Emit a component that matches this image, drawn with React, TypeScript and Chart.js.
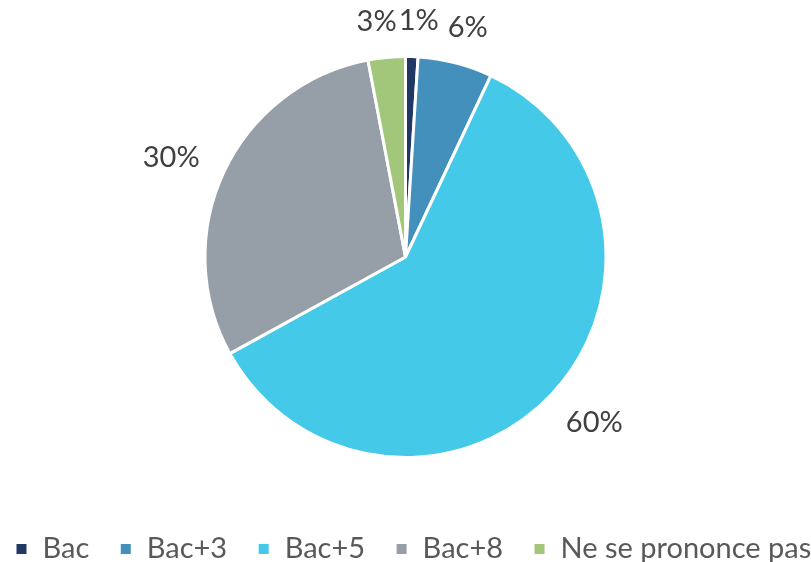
import React, { useEffect, useRef } from "react";
import { Chart, registerables } from "chart.js";

Chart.register(...registerables);

const categories = ["Bac", "Bac+3", "Bac+5", "Bac+8", "Ne se prononce pas"];
const values = [1, 6, 60, 30, 3];
const valueLabels = ["1%", "6%", "60%", "30%", "3%"];
const colors = ["#1F3864", "#4390BC", "#44CAE8", "#969FA8", "#A3C77A"];

const FONT = "Lato, 'Open Sans', sans-serif";
const LEGEND_FONT = 29;
const LEGEND_PAD = 30;
const LEGEND_TEXT_Y = 549;
const LEGEND_START_X = 15;
const LEGEND_BOX_H = 103;

const outsideLabels = {
  id: "outsideLabels",
  afterDatasetsDraw(chart: any) {
    const ctx = chart.ctx;
    const meta = chart.getDatasetMeta(0);
    ctx.save();
    ctx.font = `29px ${FONT}`;
    ctx.fillStyle = "#404040";
    ctx.textAlign = "center";
    ctx.textBaseline = "middle";
    const boxes: { cx: number; cy: number; w: number; text: string }[] = [];
    meta.data.forEach((arc: any, i: number) => {
      const p = arc.getProps(["x", "y", "startAngle", "endAngle", "outerRadius"], true);
      const mid = (p.startAngle + p.endAngle) / 2;
      const text = valueLabels[i];
      const w = ctx.measureText(text).width;
      const h = 16;
      const r = p.outerRadius + 30;
      const px = p.x + Math.cos(mid) * r;
      const py = p.y + Math.sin(mid) * r;
      boxes.push({ cx: px + (Math.cos(mid) * w) / 2, cy: py + (Math.sin(mid) * h) / 2 + 2, w, text });
    });
    for (let a = 0; a < boxes.length; a++) {
      for (let b = a + 1; b < boxes.length; b++) {
        const A = boxes[a];
        const B = boxes[b];
        if (Math.abs(A.cy - B.cy) < 22) {
          const need = (A.w + B.w) / 2 + 2 - Math.abs(A.cx - B.cx);
          if (need > 0) {
            const dir = A.cx >= B.cx ? 1 : -1;
            A.cx += (dir * need) / 2;
            B.cx -= (dir * need) / 2;
          }
        }
      }
    }
    boxes.forEach((b) => ctx.fillText(b.text, b.cx, b.cy));
    ctx.restore();
  },
};

const legendShift = {
  id: "legendShift",
  beforeInit(chart: any) {
    const L = chart.legend;
    if (!L) return;
    const fit = L.fit;
    L.fit = function () {
      const mw = this.maxWidth;
      this.maxWidth = 4000;
      fit.call(this);
      this.maxWidth = mw;
      this.width = mw;
      this.height = LEGEND_BOX_H;
    };
  },
  afterLayout(chart: any) {
    const L = chart.legend;
    if (!L) return;
    const desiredTop = LEGEND_TEXT_Y - LEGEND_PAD - LEGEND_FONT / 2;
    const d = desiredTop - L.top;
    L.top += d;
    L.bottom += d;
    const LW = L.lineWidths ? L.lineWidths[0] : 0;
    const right = LEGEND_START_X + LW + 5;
    const left = 2 * LEGEND_START_X + LW - LEGEND_PAD - right;
    L.left = left;
    L.right = right;
    L.width = right - left;
  },
};

export default function App() {
  const ref = useRef<HTMLCanvasElement>(null);
  useEffect(() => {
    document.body.style.margin = "0";
    const chart = new Chart(ref.current!, {
      type: "pie",
      data: {
        labels: categories,
        datasets: [
          {
            data: values,
            backgroundColor: colors,
            borderColor: "#ffffff",
            borderWidth: 3,
          },
        ],
      },
      options: {
        animation: false,
        responsive: false,
        maintainAspectRatio: false,
        layout: { padding: { top: 55, bottom: 0, left: 0, right: 0 } },
        plugins: {
          tooltip: { enabled: false },
          legend: {
            position: "bottom",
            labels: {
              boxWidth: 13,
              boxHeight: 13,
              padding: LEGEND_PAD,
              color: "#595959",
              font: { family: FONT, size: LEGEND_FONT },
            },
          },
        },
      },
      plugins: [outsideLabels, legendShift],
    });
    return () => chart.destroy();
  }, []);
  return (
    <div style={{ width: 811, height: 562 }}>
      <canvas ref={ref} width={811} height={562} style={{ display: "block" }} />
    </div>
  );
}
